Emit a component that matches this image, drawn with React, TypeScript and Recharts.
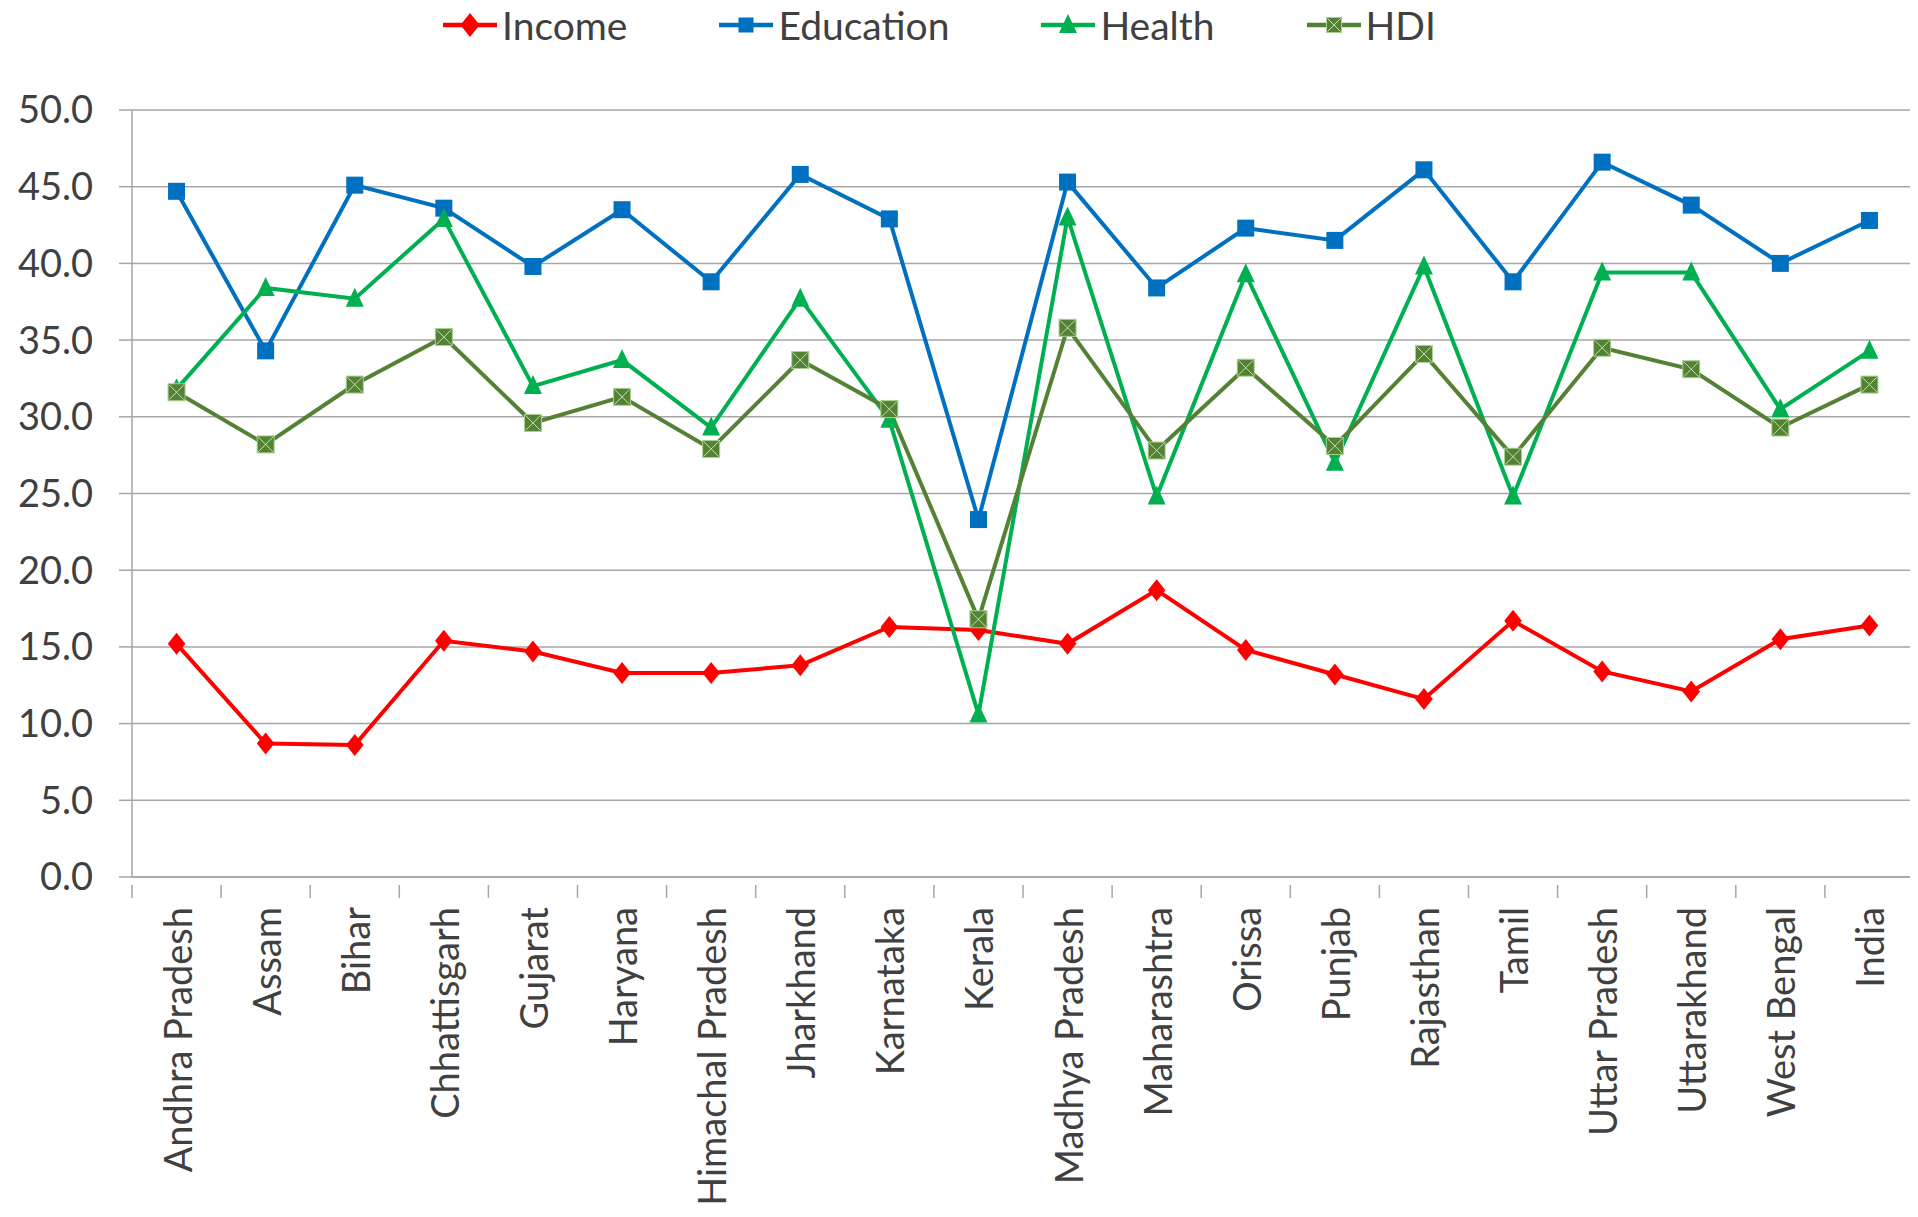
import { LineChart, Line, XAxis, YAxis, CartesianGrid, Legend } from 'recharts';

const states = [
  'Andhra Pradesh', 'Assam', 'Bihar', 'Chhattisgarh', 'Gujarat', 'Haryana',
  'Himachal Pradesh', 'Jharkhand', 'Karnataka', 'Kerala', 'Madhya Pradesh',
  'Maharashtra', 'Orissa', 'Punjab', 'Rajasthan', 'Tamil', 'Uttar Pradesh',
  'Uttarakhand', 'West Bengal', 'India',
];

const income = [15.2, 8.7, 8.6, 15.4, 14.7, 13.3, 13.3, 13.8, 16.3, 16.1, 15.2, 18.7, 14.8, 13.2, 11.6, 16.7, 13.4, 12.1, 15.5, 16.4];
const education = [44.7, 34.3, 45.1, 43.6, 39.8, 43.5, 38.8, 45.8, 42.9, 23.3, 45.3, 38.4, 42.3, 41.5, 46.1, 38.8, 46.6, 43.8, 40.0, 42.8];
const health = [31.8, 38.4, 37.7, 42.9, 32.0, 33.7, 29.3, 37.7, 29.8, 10.6, 43.0, 24.8, 39.3, 27.0, 39.8, 24.8, 39.4, 39.4, 30.5, 34.3];
const hdi = [31.6, 28.2, 32.1, 35.2, 29.6, 31.3, 27.9, 33.7, 30.5, 16.8, 35.8, 27.8, 33.2, 28.1, 34.1, 27.4, 34.5, 33.1, 29.3, 32.1];

const yTicks = [0, 5, 10, 15, 20, 25, 30, 35, 40, 45, 50];

const data = states.map((s, i) => ({
  state: s,
  Income: income[i],
  Education: education[i],
  Health: health[i],
  HDI: hdi[i],
}));

const FONT = 'Lato, "DejaVu Sans", sans-serif';
const TEXT = '#404040';
const GRID = '#A6A6A6';

const C_INCOME = '#FF0000';
const C_EDU = '#0070C0';
const C_HEALTH = '#00B050';
const C_HDI = '#548235';

function Diamond({ cx, cy, r = 11, color }: any) {
  return <polygon points={`${cx},${cy - r} ${cx + r * 0.8},${cy} ${cx},${cy + r} ${cx - r * 0.8},${cy}`} fill={color} />;
}
function Square({ cx, cy, s = 17, color }: any) {
  return <rect x={cx - s / 2} y={cy - s / 2} width={s} height={s} fill={color} />;
}
function Triangle({ cx, cy, color }: any) {
  return <polygon points={`${cx},${cy - 11} ${cx + 9},${cy + 8} ${cx - 9},${cy + 8}`} fill={color} />;
}
function XSquare({ cx, cy, s = 17 }: any) {
  const h = s / 2;
  return (
    <g>
      <rect x={cx - h} y={cy - h} width={s} height={s} fill={C_HDI} stroke="#A9D18E" strokeWidth={1} />
      <line x1={cx - h + 1} y1={cy - h + 1} x2={cx + h - 1} y2={cy + h - 1} stroke="#C5E0B4" strokeWidth={1} />
      <line x1={cx + h - 1} y1={cy - h + 1} x2={cx - h + 1} y2={cy + h - 1} stroke="#C5E0B4" strokeWidth={1} />
    </g>
  );
}

const dotIncome = (p: any) => <Diamond key={p.index} cx={p.cx} cy={p.cy} color={C_INCOME} />;
const dotEdu = (p: any) => <Square key={p.index} cx={p.cx} cy={p.cy} color={C_EDU} />;
const dotHealth = (p: any) => <Triangle key={p.index} cx={p.cx} cy={p.cy} color={C_HEALTH} />;
const dotHdi = (p: any) => <XSquare key={p.index} cx={p.cx} cy={p.cy} />;

const legendItems = [
  { name: 'Income', color: C_INCOME, kind: 'diamond' },
  { name: 'Education', color: C_EDU, kind: 'square' },
  { name: 'Health', color: C_HEALTH, kind: 'triangle' },
  { name: 'HDI', color: C_HDI, kind: 'xsquare' },
];

function LegendContent() {
  return (
    <div style={{ display: 'flex', paddingLeft: 443, height: 50, alignItems: 'center', fontFamily: FONT, fontSize: 39, color: TEXT }}>
      {legendItems.map((it, i) => (
        <div key={it.name} style={{ display: 'flex', alignItems: 'center', marginRight: i < 3 ? 92 : 0 }}>
          <svg width={54} height={26} style={{ marginRight: 5 }}>
            <line x1={0} y1={13} x2={54} y2={13} stroke={it.color} strokeWidth={4.5} />
            {it.kind === 'diamond' && <Diamond cx={27} cy={13} r={12} color={it.color} />}
            {it.kind === 'square' && <Square cx={27} cy={13} s={15} color={it.color} />}
            {it.kind === 'triangle' && <Triangle cx={27} cy={13} color={it.color} />}
            {it.kind === 'xsquare' && <XSquare cx={27} cy={13} s={15} />}
          </svg>
          <span>{it.name}</span>
        </div>
      ))}
    </div>
  );
}

const BAND = (1914 - 132) / states.length;

function StateTick({ x, y, payload, index }: any) {
  return (
    <g>
      <line x1={x - BAND / 2} y1={y} x2={x - BAND / 2} y2={y + 13} stroke={GRID} strokeWidth={1.5} />
      {index === states.length - 1 && (
        <line x1={x + BAND / 2} y1={y} x2={x + BAND / 2} y2={y + 13} stroke={GRID} strokeWidth={1.5} />
      )}
      <text
        transform={`translate(${x},${y + 22}) rotate(-90)`}
        textAnchor="end"
        dominantBaseline="central"
        fill={TEXT}
        fontSize={38}
        fontFamily={FONT}
      >
        {payload.value}
      </text>
    </g>
  );
}

export default function App() {
  return (
    <div style={{ marginLeft: -8, marginTop: -8, width: 1918, height: 1217, background: '#fff' }}>
      <LineChart width={1918} height={1217} data={data} margin={{ top: 60, right: 4, left: 0, bottom: 10 }}>
        <CartesianGrid vertical={false} stroke={GRID} strokeWidth={1.5} />
        <XAxis
          dataKey="state"
          interval={0}
          height={330}
          padding={{ left: BAND / 2, right: BAND / 2 }}
          tickLine={false}
          axisLine={{ stroke: GRID, strokeWidth: 1.5 }}
          tick={<StateTick />}
        />
        <YAxis
          width={132}
          domain={[0, 50]}
          ticks={yTicks}
          tickFormatter={(v: number) => v.toFixed(1)}
          tickSize={13}
          tickMargin={26}
          tickLine={{ stroke: GRID, strokeWidth: 1.5 }}
          axisLine={{ stroke: GRID, strokeWidth: 1.5 }}
          tick={{ fill: TEXT, fontSize: 38, fontFamily: FONT }}
        />
        <Legend verticalAlign="top" align="left" wrapperStyle={{ top: 0, left: 0, width: 1918 }} content={<LegendContent />} />
        <Line dataKey="Income" stroke={C_INCOME} strokeWidth={4} dot={dotIncome} isAnimationActive={false} />
        <Line dataKey="Education" stroke={C_EDU} strokeWidth={4} dot={dotEdu} isAnimationActive={false} />
        <Line dataKey="Health" stroke={C_HEALTH} strokeWidth={4} dot={dotHealth} isAnimationActive={false} />
        <Line dataKey="HDI" stroke={C_HDI} strokeWidth={4} dot={dotHdi} isAnimationActive={false} />
      </LineChart>
    </div>
  );
}
